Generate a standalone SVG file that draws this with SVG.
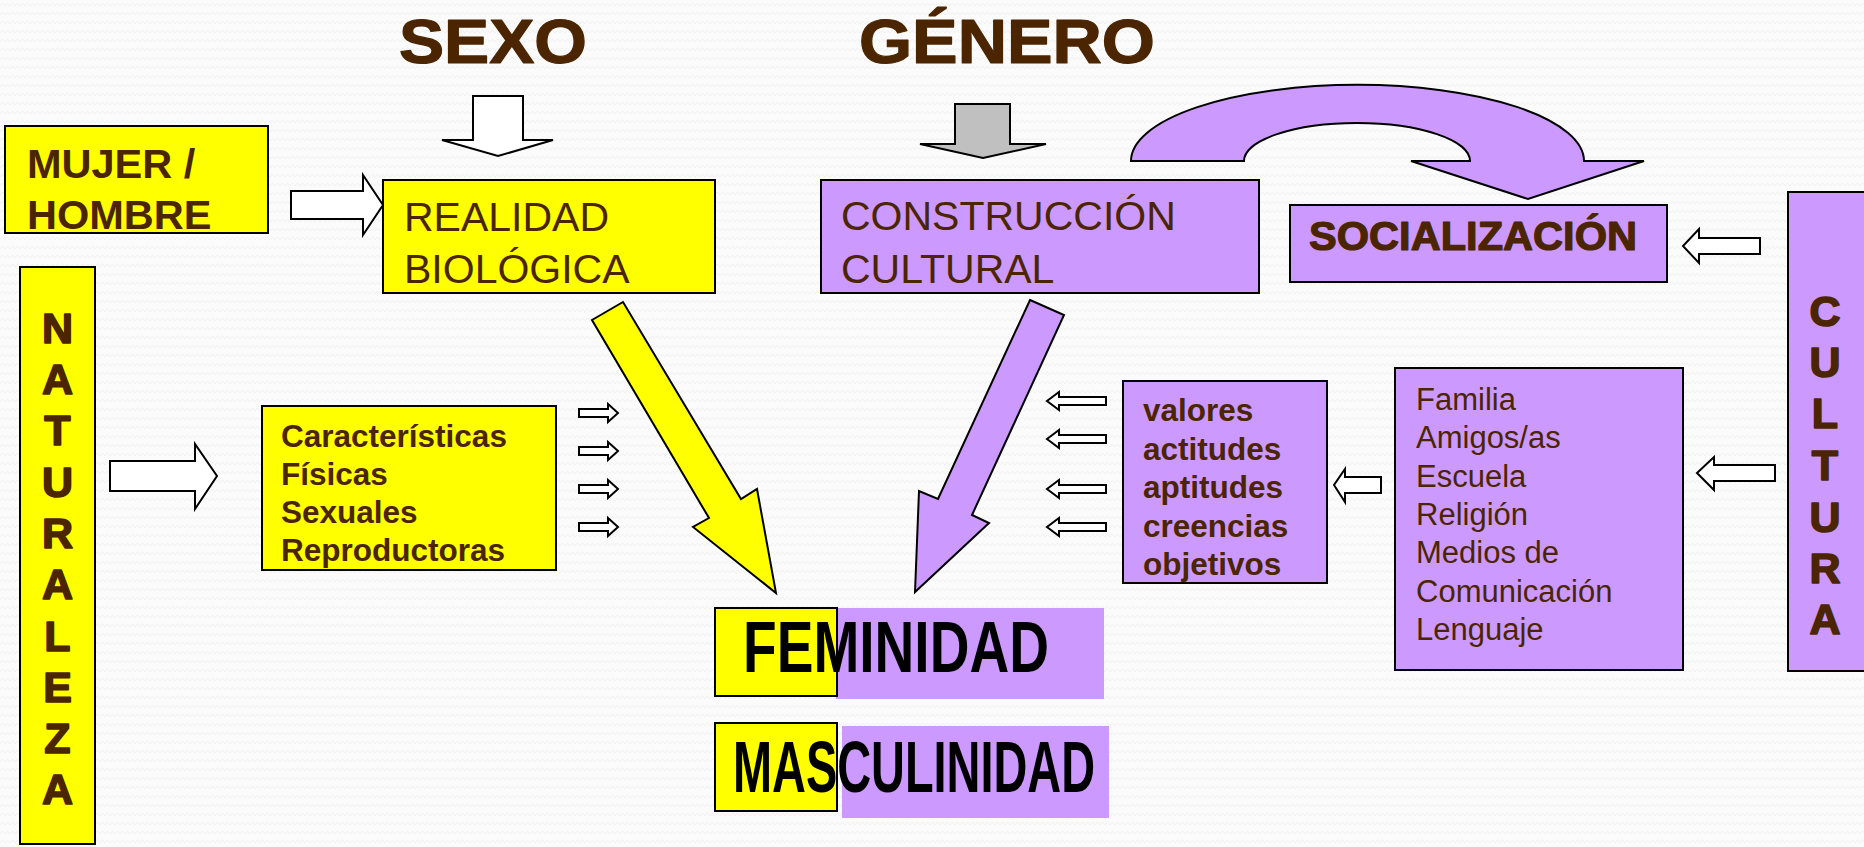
<svg xmlns="http://www.w3.org/2000/svg" width="1864" height="847" viewBox="0 0 1864 847">
<defs>
<pattern id="bg" width="10" height="9" patternUnits="userSpaceOnUse">
<rect width="10" height="9" fill="#FBFBFB"/>
<polyline points="0,6 2.5,3 5,6 7.5,3 10,6" fill="none" stroke="#F1F1F1" stroke-width="1"/>
</pattern>
<polygon id="sl" points="59,-4 12,-4 12,-9 0,0 12,9 12,4 59,4"/>
<polygon id="sr" points="0,-4 29,-4 29,-9 39,0 29,9 29,4 0,4"/>
</defs>
<style>
.y{fill:#FFFF00;stroke:#000;stroke-width:2}
.p{fill:#CC99FF;stroke:#000;stroke-width:2}
.w{fill:#FFFFFF;stroke:#000;stroke-width:2;stroke-linejoin:miter}
.t{font-family:"Liberation Sans",Arial,sans-serif;fill:#4B2500}
.b{font-weight:bold}
.heavy{stroke:#4B2500;stroke-width:1.2;stroke-linejoin:round}
.big{font-family:"Liberation Sans",Arial,sans-serif;font-weight:bold;fill:#000;font-size:72px}
.v{font-family:"Liberation Sans",Arial,sans-serif;font-weight:bold;fill:#4B2500;font-size:43px;text-anchor:middle;stroke:#4B2500;stroke-width:1.6;stroke-linejoin:round}
</style>
<rect width="1864" height="847" fill="url(#bg)"/>

<g id="titulo-sexo"><text class="t b heavy" x="399" y="63" font-size="63" textLength="188" lengthAdjust="spacingAndGlyphs">SEXO</text></g>
<g id="titulo-genero"><text class="t b heavy" x="859" y="63" font-size="63" textLength="296" lengthAdjust="spacingAndGlyphs">GÉNERO</text></g>

<g id="mujer-hombre">
<rect class="y" x="5" y="126" width="263" height="107"/>
<text class="t b" font-size="41.5"><tspan x="27" y="178">MUJER /</tspan><tspan x="27" y="229">HOMBRE</tspan></text>
</g>

<g id="realidad-biologica">
<rect class="y" x="383" y="180" width="332" height="113"/>
<text class="t" font-size="41"><tspan x="404" y="231">REALIDAD</tspan><tspan x="404" y="283">BIOLÓGICA</tspan></text>
</g>

<g id="construccion-cultural">
<rect class="p" x="821" y="180" width="438" height="113"/>
<text class="t" font-size="41"><tspan x="841" y="230">CONSTRUCCIÓN</tspan><tspan x="841" y="283">CULTURAL</tspan></text>
</g>

<g id="socializacion">
<rect class="p" x="1290" y="205" width="377" height="77"/>
<text class="t b heavy" x="1309" y="250" font-size="40" textLength="328" lengthAdjust="spacingAndGlyphs">SOCIALIZACIÓN</text>
</g>

<g id="cultura">
<rect class="p" x="1788" y="192" width="90" height="479"/>
<text class="v"><tspan x="1825" y="326">C</tspan><tspan x="1825" y="377">U</tspan><tspan x="1825" y="428">L</tspan><tspan x="1825" y="480">T</tspan><tspan x="1825" y="532">U</tspan><tspan x="1825" y="583">R</tspan><tspan x="1825" y="634">A</tspan></text>
</g>

<g id="agentes">
<rect class="p" x="1395" y="368" width="288" height="302"/>
<text class="t" font-size="31"><tspan x="1416" y="410">Familia</tspan><tspan x="1416" y="448">Amigos/as</tspan><tspan x="1416" y="487">Escuela</tspan><tspan x="1416" y="525">Religión</tspan><tspan x="1416" y="563">Medios de</tspan><tspan x="1416" y="602">Comunicación</tspan><tspan x="1416" y="640">Lenguaje</tspan></text>
</g>

<g id="valores">
<rect class="p" x="1123" y="381" width="204" height="202"/>
<text class="t b" font-size="31.5"><tspan x="1143" y="421">valores</tspan><tspan x="1143" y="460">actitudes</tspan><tspan x="1143" y="498">aptitudes</tspan><tspan x="1143" y="537">creencias</tspan><tspan x="1143" y="575">objetivos</tspan></text>
</g>

<g id="caracteristicas">
<rect class="y" x="262" y="406" width="294" height="164"/>
<text class="t b" font-size="31.5"><tspan x="281" y="447">Características</tspan><tspan x="281" y="485">Físicas</tspan><tspan x="281" y="523">Sexuales</tspan><tspan x="281" y="561">Reproductoras</tspan></text>
</g>

<g id="naturaleza">
<rect class="y" x="20" y="267" width="75" height="577"/>
<text class="v"><tspan x="57.5" y="343">N</tspan><tspan x="57.5" y="394">A</tspan><tspan x="57.5" y="445">T</tspan><tspan x="57.5" y="497">U</tspan><tspan x="57.5" y="548">R</tspan><tspan x="57.5" y="599">A</tspan><tspan x="57.5" y="651">L</tspan><tspan x="57.5" y="702">E</tspan><tspan x="57.5" y="753">Z</tspan><tspan x="57.5" y="804">A</tspan></text>
</g>

<g id="feminidad">
<rect x="836" y="608" width="268" height="91" fill="#CC99FF"/>
<rect class="y" x="715" y="608" width="122" height="88"/>
<text class="big" x="743" y="672" textLength="306" lengthAdjust="spacingAndGlyphs">FEMINIDAD</text>
</g>

<g id="masculinidad">
<rect x="842" y="726" width="267" height="92" fill="#CC99FF"/>
<rect class="y" x="715" y="723" width="122" height="88"/>
<text class="big" x="733" y="792" textLength="362" lengthAdjust="spacingAndGlyphs">MASCULINIDAD</text>
</g>

<g id="connectors">
<polygon class="w" points="473,96 523,96 523,140 553,140 498,156 442,140 473,140"/>
<polygon fill="#C0C0C0" stroke="#000" stroke-width="2" points="955,104 1010,104 1010,144 1046,144 983,158 920,144 955,144"/>
<polygon class="w" points="291,191 363,191 363,175 383,205 363,235 363,219 291,219"/>
<polygon class="w" points="110,461 195,461 195,444 217,476 195,509 195,491 110,491"/>
<polygon class="w" points="1760,238 1699,238 1699,229 1683,246 1699,263 1699,254 1760,254"/>
<polygon class="w" points="1775,465 1714,465 1714,457 1697,473 1714,490 1714,481 1775,481"/>
<polygon class="w" points="1381,477 1345,477 1345,469 1334,485 1345,502 1345,493 1381,493"/>
<use href="#sl" class="w" x="1047" y="401"/>
<use href="#sl" class="w" x="1047" y="439"/>
<use href="#sl" class="w" x="1047" y="489"/>
<use href="#sl" class="w" x="1047" y="527"/>
<use href="#sr" class="w" x="579" y="413"/>
<use href="#sr" class="w" x="579" y="451"/>
<use href="#sr" class="w" x="579" y="489"/>
<use href="#sr" class="w" x="579" y="527"/>
<path class="p" d="M1131,161 A226,76 0 0 1 1584,161 L1644,161 L1528,199 L1411,161 L1470,161 A113,38 0 0 0 1244,161 Z"/>
<polygon class="y" points="592,320 623,302 741,499 757,489 776,593 693,527 709,518"/>
<polygon class="p" points="1030,300 1064,315 972,515 989,523 915,592 919,491 938,499"/>
</g>
</svg>
